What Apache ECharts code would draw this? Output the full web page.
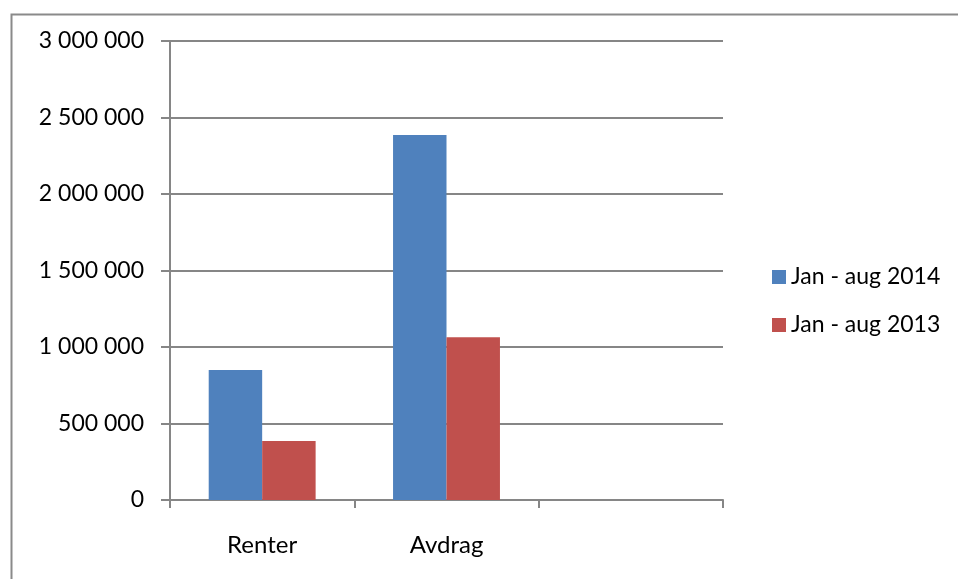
<!DOCTYPE html>
<html>
<head>
<meta charset="utf-8">
<script src="https://cdn.jsdelivr.net/npm/echarts@6/dist/echarts.min.js"></script>
<style>
  html, body { margin: 0; padding: 0; background: #fff; }
  #chart { width: 958px; height: 579px; }
</style>
</head>
<body>
<div id="chart"></div>
<script>
// categories (third slot is empty in the original)
var categories = ['Renter', 'Avdrag', ''];
// series values
var series2014 = [850000, 2385000, null];
var series2013 = [385000, 1063000, null];
var seriesNames = ['Jan - aug 2014', 'Jan - aug 2013'];
// y axis ticks
var yMin = 0, yMax = 3000000, yStep = 500000;

var chart = echarts.init(document.getElementById('chart'));

// Norwegian style thousands separator: space
function fmt(v) {
    return String(v).replace(/\B(?=(\d{3})+(?!\d))/g, ' ');
}

var font = 'Lato';
var gridColor = '#868686';

var option = {
    animation: false,
    textStyle: { fontFamily: font },
    graphic: [{
        // outer frame of the chart area
        type: 'rect',
        left: 9, top: 12,
        shape: { width: 960, height: 600 },
        style: { fill: 'none', stroke: '#8a8a8a', lineWidth: 2 }
    }],
    grid: { left: 170, right: 235, top: 41, bottom: 79 },
    legend: {
        orient: 'vertical',
        left: 767, top: 260,
        itemWidth: 14, itemHeight: 14,
        itemGap: 24,
        icon: 'rect',
        textStyle: { fontFamily: font, fontSize: 23, lineHeight: 24, color: '#000' },
        data: seriesNames
    },
    xAxis: {
        type: 'category',
        data: categories,
        axisLine: { lineStyle: { color: gridColor, width: 2 } },
        axisTick: { show: true, length: 8, lineStyle: { color: gridColor, width: 2 } },
        axisLabel: { color: '#000', fontSize: 24, margin: 33 }
    },
    yAxis: {
        type: 'value',
        min: yMin, max: yMax, interval: yStep,
        axisLine: { show: true, lineStyle: { color: gridColor, width: 2 } },
        axisTick: { show: true, length: 9, lineStyle: { color: gridColor, width: 2 } },
        splitLine: { lineStyle: { color: gridColor, width: 2 } },
        axisLabel: { color: '#000', fontSize: 23, margin: 26, formatter: fmt }
    },
    series: [{
        name: seriesNames[0],
        type: 'bar',
        data: series2014,
        barGap: '0%',
        barCategoryGap: '42%',
        itemStyle: { color: '#4F81BD' }
    }, {
        name: seriesNames[1],
        type: 'bar',
        data: series2013,
        barGap: '0%',
        barCategoryGap: '42%',
        itemStyle: { color: '#C0504D' }
    }]
};

chart.setOption(option);
</script>
</body>
</html>
